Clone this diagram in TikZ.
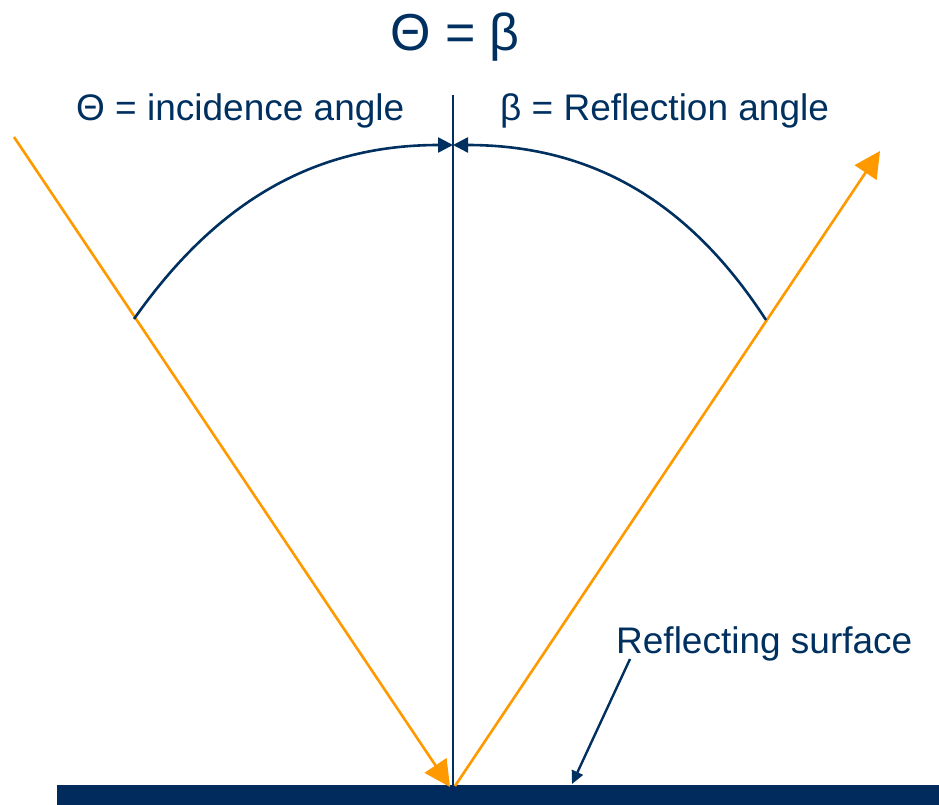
\documentclass[tikz,border=0pt]{standalone}
\usepackage{fontspec}
\setmainfont{Liberation Sans}
\usetikzlibrary{arrows.meta}
\definecolor{navy}{RGB}{0,48,95}
\definecolor{barnavy}{RGB}{0,43,92}
\definecolor{rayorange}{RGB}{255,153,0}
\tikzset{
  lbl/.style={inner sep=0pt, anchor=base west, text=navy, font=\fontsize{37}{44}\selectfont},
  ttl/.style={inner sep=0pt, anchor=base west, text=navy, font=\fontsize{52}{60}\selectfont},
  ray/.style={draw=rayorange, line width=2.6pt, -{Triangle[length=26pt,width=26pt]}},
  arcline/.style={draw=navy, line width=2.6pt, -{Triangle[length=15pt,width=15pt]}},
  normalline/.style={draw=navy, line width=2pt},
  pointer/.style={draw=navy, line width=2.4pt, -{Triangle[length=13pt,width=12pt]}},
}
\begin{document}
\begin{tikzpicture}[x=1pt,y=-1pt]
\useasboundingbox (0,0) rectangle (939,805);
% surface bar
\fill[barnavy] (57,785) rectangle (939,805);
% coordinates
\coordinate (inS) at (14,137);
\coordinate (hit) at (450,787);
\coordinate (rfS) at (455,786);
\coordinate (rfE) at (880,151);
\coordinate (nTop) at (453,95);
\coordinate (nBot) at (453,785);
\coordinate (apex) at (453,145);
\coordinate (aL) at (134,319);
\coordinate (aR) at (766,320);
\coordinate (ptrS) at (630,659);
\coordinate (ptrE) at (572,784);
% normal
\draw[normalline] (nTop) -- (nBot);
% rays
\draw[ray] (inS) -- (hit);
\draw[ray] (rfS) -- (rfE);
% angle arcs
\draw[arcline] (aL) .. controls (219,198) and (318,145) .. (apex);
\draw[arcline] (aR) .. controls (687,198) and (588,145) .. (apex);
% texts
\node[ttl] (title) at (390,51) {Θ = β};
\node[lbl] (inc) at (76,121) {Θ = incidence angle};
\node[lbl] (refl) at (500,121) {β = Reflection angle};
\node[lbl] (surf) at (616,653) {Reflecting surface};
% pointer
\draw[pointer] (ptrS) -- (ptrE);
\end{tikzpicture}
\end{document}
